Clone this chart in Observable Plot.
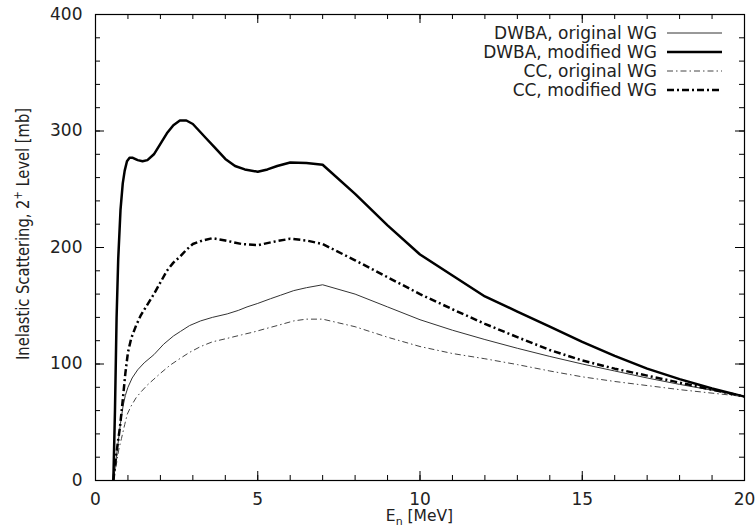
<!DOCTYPE html>
<html><head><meta charset="utf-8">
<script src="https://cdn.jsdelivr.net/npm/d3@7"></script>
<script src="https://cdn.jsdelivr.net/npm/@observablehq/plot@0.6"></script>
<style>body{margin:0;background:#fff}</style>
</head><body><div id="chart"></div>
<script>
// Data
const dwbaOrigX = [0.55,0.62,0.7,0.77,0.85,0.92,1.0,1.13,1.3,1.5,1.8,2.1,2.4,2.62,2.9,3.24,3.6,4.06,4.4,4.67,5.0,5.39,5.7,6.11,6.5,7.0,8,9,10,11,12,13,14,15,16,17,18,19,20];
const dwbaOrigY = [0,15,33,49,64,73,80,88,95,101,108,117,124,128,133,137,140,143,146,149,152,156,159,163,165.5,168,160,149,138,129,121,113.5,106.5,100,94,88,82.5,77.5,72];
const dwbaModX = [0.55,0.6,0.65,0.7,0.77,0.84,0.9,0.97,1.05,1.15,1.3,1.45,1.6,1.8,2.0,2.2,2.4,2.6,2.8,3.0,3.2,3.4,3.7,4.0,4.3,4.6,5.0,5.3,5.6,6.0,6.5,7,8,9,10,11,12,13,14,15,16,17,18,19,20];
const dwbaModY = [0,60,140,190,232,255,266,274,277,277,275,274,275,280,289,298,305,309,309,306,300,294,285,276,270,267,265,267,270,273,272.5,271,246,219,194,176,158,145,132,119,107,96,87,79,72];
const ccOrigX = [0.55,0.65,0.72,0.8,0.9,0.98,1.1,1.25,1.4,1.6,1.8,2.0,2.3,2.62,2.9,3.24,3.6,4.06,4.5,4.88,5.2,5.6,6.11,6.5,7,8,9,10,11,12,13,14,15,16,17,18,19,20];
const ccOrigY = [0,15,27,36,48,57,64,71,76,82,87,92,99,105,110,115,119,122,125,127.5,130,133,137,138.5,138.5,132,123,115,109,104.5,99.5,94,89,85,81.5,78,75,72];
const ccModX = [0.55,0.63,0.7,0.75,0.8,0.85,0.92,1.0,1.1,1.25,1.4,1.6,1.8,2.0,2.2,2.4,2.6,2.8,3.0,3.3,3.6,4.0,4.5,5.0,5.5,6.0,6.5,7,8,9,10,11,12,13,14,15,16,17,18,19,20];
const ccModY = [0,20,35,45,58,72,92,110,122,133,142,151,160,170,180,187,192,198,203,206,208,206,203,202,205,207.5,206,203,189,174.5,160,147,134.5,123,112,103,96,90,84,78,72];

const seriesNames = ["DWBA, original WG", "DWBA, modified WG", "CC, original WG", "CC, modified WG"];
const xTicks = [0, 5, 10, 15, 20];
const yTicks = [0, 100, 200, 300, 400];
const xMinor = d3.range(0, 21, 1);
const yMinor = d3.range(0, 401, 20);

const styles = [
  {stroke: "#333", strokeWidth: 1, dash: null},
  {stroke: "#000", strokeWidth: 2.5, dash: null},
  {stroke: "#444", strokeWidth: 1, dash: "6,3,1.5,3"},
  {stroke: "#000", strokeWidth: 2.5, dash: "7,3,2,3"}
];
const xs = [dwbaOrigX, dwbaModX, ccOrigX, ccModX];
const ys = [dwbaOrigY, dwbaModY, ccOrigY, ccModY];

const W = 756, H = 530;
const mL = 95, mR = 12, mT = 14, mB = 50;
const fw = W - mL - mR, fh = H - mT - mB;
const FONT = "DejaVu Sans";

const lineMarks = seriesNames.map((name, k) => {
  const data = xs[k].map((x, i) => ({x, y: ys[k][i]}));
  return Plot.line(data, {x: "x", y: "y", stroke: styles[k].stroke, strokeWidth: styles[k].strokeWidth,
    strokeDasharray: styles[k].dash, strokeLinejoin: "round", strokeLinecap: "butt"});
});

const chart = Plot.plot({
  width: W, height: H,
  marginLeft: mL, marginRight: mR, marginTop: mT, marginBottom: mB,
  style: {fontFamily: FONT, fontSize: "17px", background: "#fff", color: "#222"},
  x: {domain: [0, 20]},
  y: {domain: [0, 400]},
  marks: [
    ...lineMarks,
    // inward ticks, mirrored on all four sides
    Plot.ruleX(xMinor, {x: d => d, insetTop: fh - 5, stroke: "#000"}),
    Plot.ruleX(xMinor, {x: d => d, insetBottom: fh - 5, stroke: "#000"}),
    Plot.ruleX(xTicks, {x: d => d, insetTop: fh - 9, stroke: "#000"}),
    Plot.ruleX(xTicks, {x: d => d, insetBottom: fh - 9, stroke: "#000"}),
    Plot.ruleY(yMinor, {y: d => d, insetRight: fw - 5, stroke: "#000"}),
    Plot.ruleY(yMinor, {y: d => d, insetLeft: fw - 5, stroke: "#000"}),
    Plot.ruleY(yTicks, {y: d => d, insetRight: fw - 9, stroke: "#000"}),
    Plot.ruleY(yTicks, {y: d => d, insetLeft: fw - 9, stroke: "#000"}),
    Plot.axisX({ticks: xTicks, tickSize: 0, tickPadding: 12, label: null, fontSize: 17}),
    Plot.axisY({ticks: yTicks, tickSize: 0, tickPadding: 13, label: null, fontSize: 17}),
    Plot.frame({stroke: "#000", strokeWidth: 1.2})
  ]
});
document.getElementById("chart").appendChild(chart);

const svg = d3.select(chart);
// axis titles
const xl = svg.append("text").attr("x", mL + fw / 2).attr("y", 521).attr("text-anchor", "middle")
  .attr("font-family", FONT).attr("font-size", 15.5).attr("fill", "#222");
xl.append("tspan").text("E");
xl.append("tspan").attr("font-size", 11).attr("dy", 4).text("n");
xl.append("tspan").attr("dy", -4).text(" [MeV]");

const yl = svg.append("text").attr("transform", "translate(29,234) rotate(-90) scale(0.865,1)").attr("text-anchor", "middle")
  .attr("font-family", FONT).attr("font-size", 17).attr("fill", "#222");
yl.append("tspan").text("Inelastic Scattering, 2");
yl.append("tspan").attr("font-size", 11.5).attr("dy", -7).text("+");
yl.append("tspan").attr("dy", 7).text(" Level [mb]");

// legend
const legRows = [33, 52, 71, 90];
seriesNames.forEach((name, k) => {
  const yy = legRows[k];
  svg.append("text").attr("x", 657).attr("y", yy).attr("dy", "0.36em").attr("text-anchor", "end")
    .attr("font-family", FONT).attr("font-size", 17).attr("fill", "#222").text(name);
  svg.append("line").attr("x1", 667).attr("x2", 722).attr("y1", yy).attr("y2", yy)
    .attr("stroke", styles[k].stroke).attr("stroke-width", styles[k].strokeWidth)
    .attr("stroke-dasharray", styles[k].dash);
});
</script>
</body></html>
